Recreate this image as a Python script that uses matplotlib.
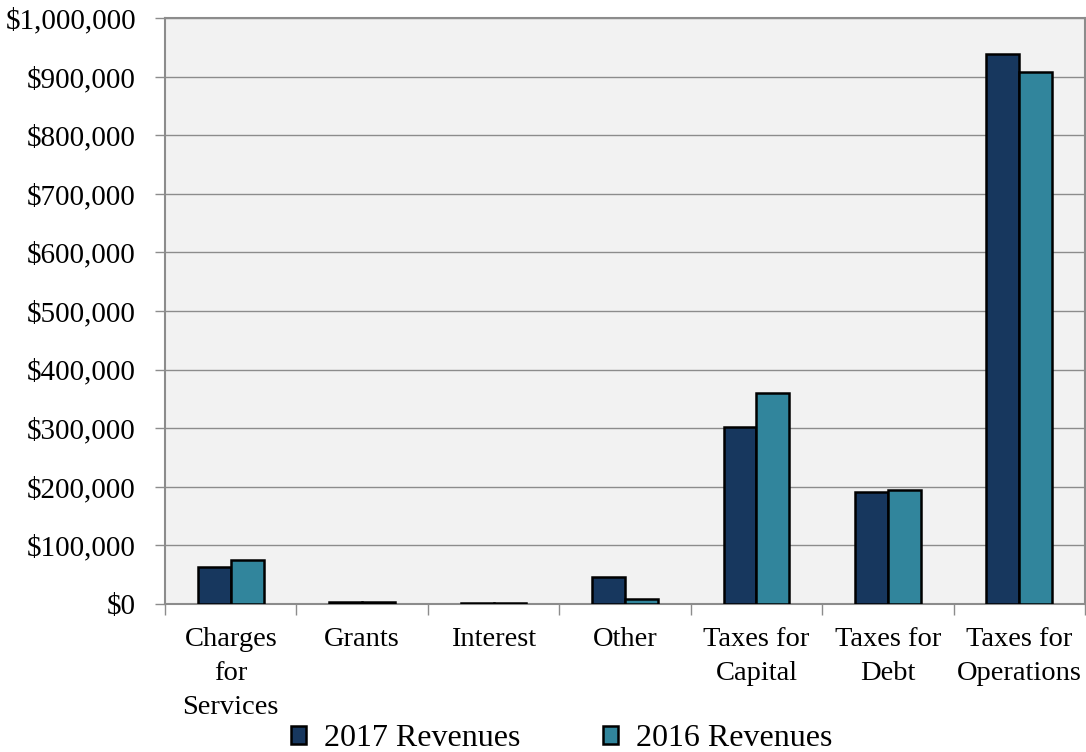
import numpy as np
import matplotlib.pyplot as plt
from matplotlib.ticker import FuncFormatter, FixedLocator

plt.rcParams['font.family'] = ['Liberation Serif', 'DejaVu Serif']

categories = ["Charges\nfor\nServices", "Grants", "Interest", "Other",
              "Taxes for\nCapital", "Taxes for\nDebt", "Taxes for\nOperations"]
rev_2017 = [63000, 4000, 1500, 46500, 302000, 191000, 939000]
rev_2016 = [75000, 4000, 2000, 9000, 360000, 194500, 908000]

c2017 = "#17375e"
c2016 = "#31859c"

fig = plt.figure(figsize=(10.86, 7.52), dpi=100)
ax = fig.add_axes([0.152, 0.197, 0.847, 0.779])
ax.set_facecolor("#f2f2f2")

x = np.arange(len(categories))
w = 0.25
ax.bar(x - w / 2, rev_2017, w, color=c2017, edgecolor="black", linewidth=1.8,
       label="2017 Revenues", zorder=3)
ax.bar(x + w / 2, rev_2016, w, color=c2016, edgecolor="black", linewidth=1.8,
       label="2016 Revenues", zorder=3)

ax.set_xlim(-0.5, len(categories) - 0.5)
ax.set_ylim(0, 1000000)
ax.set_yticks(np.arange(0, 1000001, 100000))
ax.yaxis.set_major_formatter(FuncFormatter(lambda v, p: "${:,.0f}".format(v)))
ax.grid(axis="y", color="#8c8c8c", linewidth=1, zorder=1)

ax.set_xticks(x)
ax.set_xticklabels(categories, fontsize=20.5, linespacing=1.45)
ax.tick_params(axis="x", length=0, pad=17)
ax.xaxis.set_minor_locator(FixedLocator(np.arange(-0.5, len(categories), 1)))
ax.tick_params(axis="x", which="minor", length=8, color="#8c8c8c", width=1)
ax.tick_params(axis="y", labelsize=21, length=7, color="#8c8c8c", width=1, pad=14)

for s in ax.spines.values():
    s.set_color("#8c8c8c")
    s.set_linewidth(1.5)

fig.legend(loc="lower center", bbox_to_anchor=(0.517, -0.04), ncol=2, frameon=False,
           fontsize=23, handlelength=0.48, handleheight=0.48, columnspacing=2.6,
           handletextpad=0.55)

fig.savefig("out.png", dpi=100)
